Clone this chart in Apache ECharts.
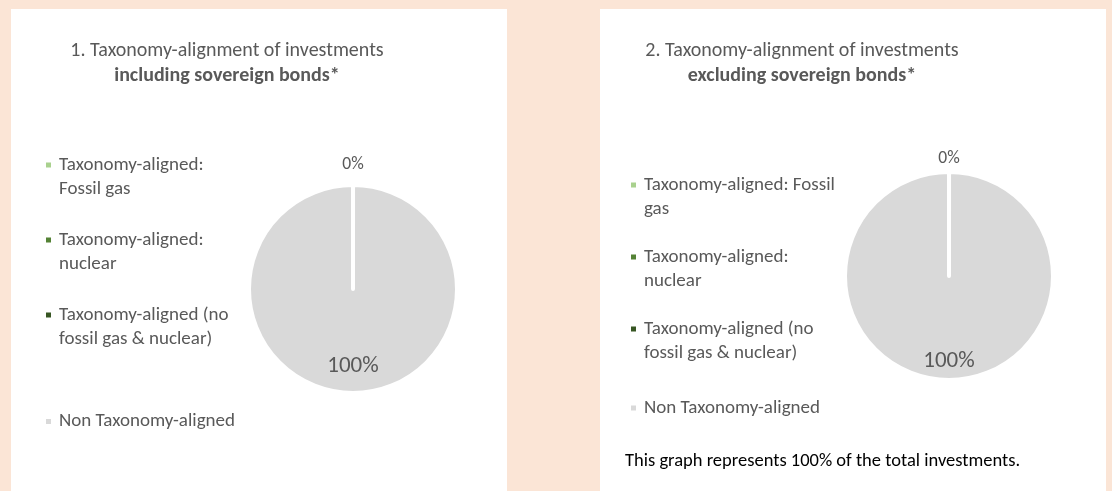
<!DOCTYPE html>
<html><head><meta charset="utf-8">
<script src="https://cdn.jsdelivr.net/npm/echarts@6/dist/echarts.min.js"></script>
<style>html,body{margin:0;padding:0;background:#FBE5D6;} #c{width:1112px;height:491px;}</style>
</head><body><div id="c"></div>
<script>
const categories = [
  'Taxonomy-aligned: Fossil gas',
  'Taxonomy-aligned: nuclear',
  'Taxonomy-aligned (no fossil gas & nuclear)',
  'Non Taxonomy-aligned'
];
const sliceColors = ['#A9D18E', '#548235', '#375623', '#D9D9D9'];
const valuesIncludingSovereign = [0, 0, 0, 100];
const valuesExcludingSovereign = [0, 0, 0, 100];
const titleLine1 = ['1. Taxonomy-alignment of investments', '2. Taxonomy-alignment of investments'];
const titleLine2 = ['including sovereign bonds*', 'excluding sovereign bonds*'];
const footnote = 'This graph represents 100% of the total investments.';

const FONT = 'Carlito, Lato, sans-serif';
const GRAY = '#595959';
const LEGEND_FS = 19;

// word wrap for legend labels
const measureCtx = document.createElement('canvas').getContext('2d');
function wrapText(text, maxW) {
  measureCtx.font = LEGEND_FS + 'px ' + FONT;
  const lines = [];
  let cur = '';
  text.split(' ').forEach(w => {
    const t = cur ? cur + ' ' + w : w;
    if (!cur || measureCtx.measureText(t).width <= maxW) cur = t;
    else { lines.push(cur); cur = w; }
  });
  lines.push(cur);
  return lines;
}

// legend icon: small square aligned with first text line (box 5 x 48)
function iconAt(cy) {
  return 'path://M0,0h5M0,' + (cy - 2.5) + 'h5v5h-5zM0,48h5';
}

function pieData(values) {
  return categories.map((name, i) => ({
    name: name,
    value: values[i],
    itemStyle: { color: sliceColors[i], borderColor: '#fff', borderWidth: 4 }
  }));
}
function makeLegend(left, top, width, gap, oneLineShift) {
  const wrapped = {};
  const data = categories.map(name => {
    const lines = wrapText(name, width);
    if (lines.length > 1) {
      wrapped[name] = lines.join('\n');
      return { name: name, icon: iconAt(12) };
    }
    const pad = oneLineShift >= 0 ? [2 * oneLineShift, 0, 0, 0] : [0, 0, -2 * oneLineShift, 0];
    wrapped[name] = '{s|' + lines[0] + '}';
    return { name: name, icon: iconAt(24 + oneLineShift), textStyle: { rich: { s: {
      fontFamily: FONT, fontSize: LEGEND_FS, color: GRAY, lineHeight: 24, padding: pad } } } };
  });
  return {
    orient: 'vertical', left: left, top: top, itemWidth: 5, itemHeight: 48, itemGap: gap,
    selectedMode: false,
    itemStyle: { borderWidth: 0 },
    data: data,
    formatter: name => wrapped[name],
    textStyle: { fontFamily: FONT, fontSize: LEGEND_FS, color: GRAY, lineHeight: 24, padding: [0, 0, 0, 3] }
  };
}
function makeSeries(center, values, zeroDy, fullDy) {
  return {
    type: 'pie', center: center, radius: 104, startAngle: 90, clockwise: true,
    minAngle: 0.01,
    silent: true, avoidLabelOverlap: false,
    data: pieData(values),
    label: {
      position: 'inside', fontFamily: FONT, color: GRAY,
      formatter: p => Math.round(p.percent) + '%',
      fontSize: 17.5
    },
    labelLine: { show: false },
    labelLayout: p => (p.dataIndex === 3 ? { dy: fullDy, fontSize: 23 } : { dy: zeroDy, hideOverlap: true }),
    emphasis: { disabled: true }
  };
}

const chart = echarts.init(document.getElementById('c'), null, { renderer: 'canvas' });
chart.setOption({
  backgroundColor: '#FBE5D6',
  animation: false,
  graphic: [
    { type: 'rect', z: -10, shape: { x: 11, y: 9, width: 496, height: 490 }, style: { fill: '#fff' } },
    { type: 'rect', z: -10, shape: { x: 600, y: 9, width: 506, height: 490 }, style: { fill: '#fff' } }
  ],
  title: [0, 1].map(i => ({
    text: titleLine1[i] + '\n{b|' + titleLine2[i] + '}',
    left: i === 0 ? 222 : 797, top: 33, textAlign: 'center',
    textStyle: { fontFamily: FONT, fontSize: 20, fontWeight: 'normal', color: GRAY, lineHeight: 25,
      rich: { b: { fontFamily: FONT, fontSize: 20, fontWeight: 'bold', color: GRAY, lineHeight: 25 } } }
  })).concat([{
    text: footnote, left: 620, top: 447,
    textStyle: { fontFamily: FONT, fontSize: 18.5, fontWeight: 'normal', color: '#000' }
  }]),
  legend: [makeLegend(41, 148, 182, 27, 17), makeLegend(626, 168, 196, 24, -5)],
  series: [
    makeSeries([353, 289], valuesIncludingSovereign, -69, 22),
    makeSeries([949, 276], valuesExcludingSovereign, -62, 30)
  ]
});
</script>
</body></html>
